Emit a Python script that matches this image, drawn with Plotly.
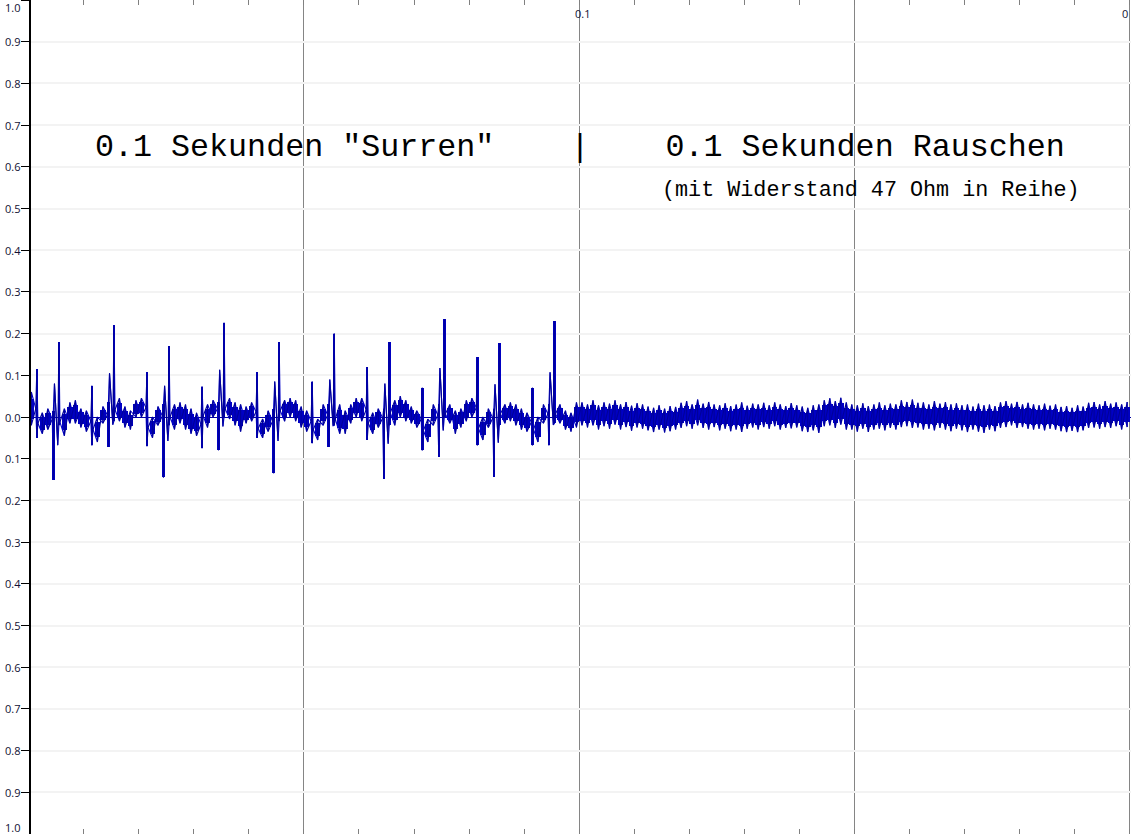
import plotly.graph_objects as go

# ---- data (one min/max pair per 1 ms column) ----
COL_DT = 0.001  # seconds per column

hi_surren = [0.06, 0.114, 0.01, 0.02, 0.015, 0.18, 0.02, 0.035, 0.04, 0.02,
             0.015, 0.075, 0.0, 0.025, 0.035, 0.22, 0.045, 0.025, 0.015, 0.04,
             0.045, 0.107, 0.0, 0.025, 0.03, 0.17, 0.03, 0.035, 0.03, 0.02,
             0.01, 0.073, 0.03, 0.04, 0.035, 0.226, 0.045, 0.035, 0.03, 0.025,
             0.035, 0.107, -0.005, 0.015, 0.02, 0.18, 0.04, 0.045, 0.04, 0.025,
             0.015, 0.085, -0.005, 0.03, 0.03, 0.20, 0.03, 0.015, 0.03, 0.045,
             0.045, 0.12, 0.01, 0.02, 0.02, 0.18, 0.04, 0.05, 0.04, 0.025,
             0.015, 0.07, -0.005, 0.03, 0.03, 0.235, 0.03, 0.015, 0.02, 0.04,
             0.045, 0.143, 0.0, 0.02, 0.02, 0.177, 0.03, 0.035, 0.03, 0.02,
             0.01, 0.07, 0.0, 0.03, 0.03, 0.23, 0.03, 0.015, 0.01, 0.035]
lo_surren = [-0.02, -0.05, -0.04, -0.03, -0.15, -0.02, -0.045, -0.015, -0.015, -0.025,
             -0.035, -0.068, -0.06, -0.015, -0.072, -0.01, -0.01, -0.025, -0.03, 0.0,
             0.0, -0.07, -0.05, -0.02, -0.145, -0.02, -0.03, -0.015, -0.03, -0.04,
             -0.045, -0.075, -0.025, 0.0, -0.08, 0.0, -0.005, -0.02, -0.035, -0.015,
             -0.01, -0.05, -0.05, -0.035, -0.135, -0.01, -0.01, 0.0, -0.01, -0.025,
             -0.035, -0.063, -0.055, -0.02, -0.072, -0.02, -0.04, -0.04, -0.015, 0.0,
             -0.01, -0.055, -0.04, -0.025, -0.148, -0.02, -0.02, 0.0, -0.01, -0.015,
             -0.025, -0.08, -0.06, -0.02, -0.095, 0.0, -0.015, -0.04, -0.025, -0.01,
             0.0, -0.068, -0.055, -0.025, -0.143, -0.02, -0.015, -0.01, -0.02, -0.03,
             -0.035, -0.068, -0.06, -0.015, -0.068, -0.015, -0.015, -0.03, -0.035, -0.025]

hi_rauschen = [0.035, 0.03, 0.04, 0.028, 0.035, 0.032, 0.04, 0.03, 0.036, 0.027,
               0.033, 0.03, 0.025, 0.022, 0.028, 0.02, 0.026, 0.024, 0.034, 0.038,
               0.03, 0.042, 0.032, 0.036, 0.03, 0.028, 0.033, 0.026, 0.03, 0.035,
               0.027, 0.032, 0.03, 0.034, 0.028, 0.035, 0.03, 0.026, 0.033, 0.028,
               0.025, 0.022, 0.028, 0.03, 0.04, 0.045, 0.038, 0.046, 0.035, 0.03,
               0.028, 0.033, 0.026, 0.03, 0.035, 0.028, 0.032, 0.03, 0.04, 0.036,
               0.042, 0.034, 0.035, 0.03, 0.038, 0.032, 0.036, 0.03, 0.033, 0.028,
               0.03, 0.025, 0.032, 0.028, 0.03, 0.026, 0.035, 0.038, 0.032, 0.036,
               0.03, 0.034, 0.03, 0.028, 0.032, 0.027, 0.03, 0.024, 0.026, 0.022,
               0.028, 0.025, 0.034, 0.036, 0.03, 0.038, 0.032, 0.035, 0.03, 0.036]
lo_rauschen = [-0.02, -0.025, -0.02, -0.03, -0.022, -0.028, -0.018, -0.03, -0.024, -0.033,
               -0.025, -0.028, -0.032, -0.036, -0.03, -0.037, -0.034, -0.03, -0.026, -0.022,
               -0.028, -0.02, -0.026, -0.03, -0.024, -0.032, -0.028, -0.034, -0.03, -0.036,
               -0.028, -0.025, -0.03, -0.024, -0.028, -0.022, -0.03, -0.026, -0.027, -0.025,
               -0.034, -0.036, -0.032, -0.038, -0.022, -0.02, -0.026, -0.018, -0.03, -0.03,
               -0.035, -0.028, -0.036, -0.03, -0.028, -0.032, -0.026, -0.03, -0.024, -0.022,
               -0.026, -0.025, -0.03, -0.028, -0.032, -0.026, -0.03, -0.034, -0.028, -0.032,
               -0.036, -0.03, -0.035, -0.038, -0.03, -0.034, -0.026, -0.024, -0.02, -0.026,
               -0.024, -0.028, -0.03, -0.028, -0.032, -0.028, -0.03, -0.034, -0.036, -0.033,
               -0.036, -0.032, -0.026, -0.025, -0.028, -0.024, -0.026, -0.022, -0.03, -0.024]

y_tick_vals = [1.0, 0.9, 0.8, 0.7, 0.6, 0.5, 0.4, 0.3, 0.2, 0.1, 0.0,
               -0.1, -0.2, -0.3, -0.4, -0.5, -0.6, -0.7, -0.8, -0.9, -1.0]
y_tick_text = ["1.0", "0.9", "0.8", "0.7", "0.6", "0.5", "0.4", "0.3", "0.2", "0.1", "0.0",
               "0.1", "0.2", "0.3", "0.4", "0.5", "0.6", "0.7", "0.8", "0.9", "1.0"]

hi_vals = hi_surren + hi_rauschen
lo_vals = lo_surren + lo_rauschen
n = len(hi_vals)

# ---- build min/max columns ----
centers = [(i + 0.5) * COL_DT for i in range(n)]
is_spike = [(h - l) > 0.09 for h, l in zip(hi_vals, lo_vals)]
mids = [0.5 * (h + l) for h, l in zip(hi_vals, lo_vals)]

core_base, core_height, widths = [], [], []
for h, l, s in zip(hi_vals, lo_vals, is_spike):
    d = h - l
    if s:                 # sharp spike column: thin full-range stroke
        core_base.append(l)
        core_height.append(d)
        widths.append(0.45 * COL_DT)
    else:                 # dense core of the band; the min/max strokes give the fuzz
        core_base.append(l + 0.2 * d)
        core_height.append(0.6 * d)
        widths.append(COL_DT)

off = 0.2 * COL_DT
xa, ya, xb, yb = [], [], [], []
for i in range(n):
    c, h, l = centers[i], hi_vals[i], lo_vals[i]
    if is_spike[i]:
        before = mids[i - 1] if i > 0 else mids[i]
        after = mids[i + 1] if i < n - 1 else mids[i]
        xa += [c - off, c, c, c + off]
        ya += [before, h, l, after]
        xb += [c - off, c, c, c + off]
        yb += [before, l, h, after]
    else:
        xa += [c, c]
        ya += [h, l]
        xb += [c, c]
        yb += [l, h]

fig = go.Figure()
fig.add_trace(go.Bar(x=centers, y=core_height, base=core_base, width=widths,
                     marker=dict(color="#0000c0", line=dict(width=0)), hoverinfo="skip"))
fig.add_trace(go.Scatter(x=xb, y=yb, mode="lines",
                         line=dict(color="#0000c8", width=1.1), hoverinfo="skip"))
fig.add_trace(go.Scatter(x=xa, y=ya, mode="lines",
                         line=dict(color="#00009a", width=1.1), hoverinfo="skip"))

label_font = dict(family="Open Sans", size=11, color="#111133")
annotations = []
for v, t in zip(y_tick_vals, y_tick_text):
    yy = v
    if v == 1.0:
        yy = 0.983
    elif v == -1.0:
        yy = -0.985
    annotations.append(dict(x=-28 / 1100, xref="paper", y=yy, yref="y", text=t,
                            showarrow=False, xanchor="left", yanchor="middle",
                            font=label_font))
# top time labels
annotations.append(dict(x=0.1, xref="x", y=1 - 13 / 834, yref="paper", text="0.1",
                        showarrow=False, xanchor="left", yanchor="middle", xshift=-6,
                        font=label_font))
annotations.append(dict(x=1, xref="paper", y=1 - 13 / 834, yref="paper", text="0",
                        showarrow=False, xanchor="right", yanchor="middle", xshift=-1,
                        font=label_font))

nb = "\u00a0"
annotations.append(dict(
    x=(93 - 31) / 1100, xref="paper", y=1 - 148 / 834, yref="paper",
    text='0.1 Sekunden "Surren"' + nb * 4 + "|" + nb * 4 + "0.1 Sekunden Rauschen",
    showarrow=False, xanchor="left", yanchor="middle",
    font=dict(family="Liberation Mono, Courier New, monospace", size=31.7, color="#000000")))
annotations.append(dict(
    x=(660 - 31) / 1100, xref="paper", y=1 - 190 / 834, yref="paper",
    text="(mit Widerstand 47 Ohm in Reihe)",
    showarrow=False, xanchor="left", yanchor="middle",
    font=dict(family="Liberation Mono, Courier New, monospace", size=21.75, color="#000000")))

fig.update_layout(
    width=1131, height=834,
    margin=dict(l=31, r=0, t=0, b=0),
    paper_bgcolor="white", plot_bgcolor="white",
    showlegend=False, bargap=0,
    annotations=annotations,
    xaxis=dict(range=[0.00044, 0.2002], showgrid=True, gridcolor="#858585", gridwidth=1,
               tick0=0, dtick=0.05, ticks="inside", ticklen=5, tickcolor="#808080",
               mirror="ticks", showticklabels=False, zeroline=False, showline=False,
               minor=dict(dtick=0.01, ticks="inside", ticklen=5, tickcolor="#808080",
                          showgrid=False)),
    yaxis=dict(range=[-1.0, 1.0], tickvals=y_tick_vals, showticklabels=False,
               ticks="outside", ticklen=8, tickcolor="#000000", tickwidth=1,
               showline=True, linecolor="#000000", linewidth=2,
               showgrid=True, gridcolor="#f3f3f3", gridwidth=2,
               zeroline=True, zerolinecolor="#0000a0", zerolinewidth=1),
)

fig.write_html("out.html", config={"displayModeBar": False},
               post_script="document.body.style.margin='0';document.body.style.overflow='hidden';")
